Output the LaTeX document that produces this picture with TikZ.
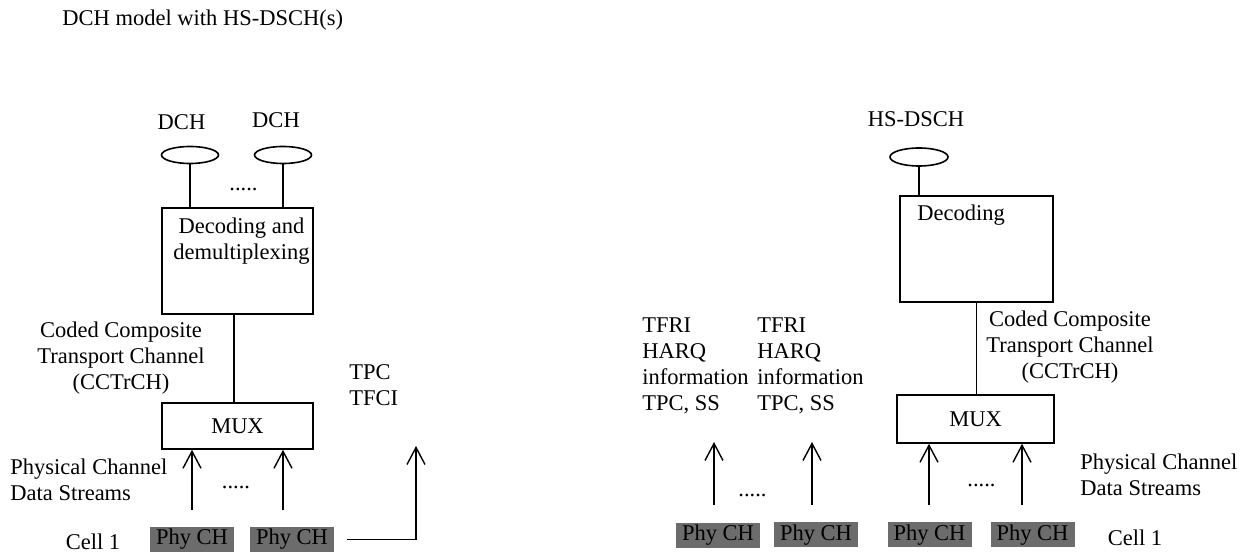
\documentclass[tikz,border=0pt]{standalone}
\usepackage{fontspec}
\setmainfont{Liberation Serif}
\definecolor{PhyGray}{RGB}{108,108,108}
\usepackage{tikz}
\usetikzlibrary{arrows.meta, positioning, shapes.geometric, calc}
\newcommand{\chfont}{\fontsize{11.25}{13}\selectfont}
\tikzset{
  chan/.style={ellipse, draw=black, line width=0.8pt, fill=white,
               minimum width=28.5pt, minimum height=8.5pt, inner sep=0pt},
  blk/.style={rectangle, draw=black, line width=0.8pt, fill=white,
              inner sep=0pt, font=\chfont},
  phy/.style={rectangle, fill=PhyGray, minimum width=42pt,
              minimum height=12.5pt, inner sep=0pt, font=\chfont, text=black},
  txt/.style={inner sep=0pt, font=\chfont, align=#1},
  txt/.default=center,
  lnk/.style={line width=0.7pt},
  arr/.style={-{Straight Barb[length=8.5pt, width=9pt]}, line width=0.7pt},
}

\begin{document}
\begin{tikzpicture}[x=0.5pt, y=-0.5pt]
      \useasboundingbox (0,0) rectangle (1248,555);

      \node[txt, anchor=west] (title) at (62,20) {DCH model with HS-DSCH(s)};

      % DCH side
      \node[txt] (dchl1) at (181.5,122) {DCH};
      \node[txt] (dchl2) at (276,120) {DCH};
      \node[chan] (dch1) at (190,155) {};
      \node[chan] (dch2) at (283,155) {};
      \node[txt] (dots1) at (243.5,189) {.....};
      \node[blk, minimum width=75.5pt, minimum height=53pt] (decl) at (237.5,261) {};
      \node[txt] (decltxt) at (241.5,241) {Decoding and\\demultiplexing};
      \node[txt] (cctl) at (121,358) {Coded Composite\\Transport Channel\\(CCTrCH)};
      \node[blk, minimum width=75.5pt, minimum height=23pt] (muxl) at (237.5,426) {MUX};
      \node[txt=left, anchor=west] (tpc) at (349,385.5) {TPC\\TFCI};
      \node[txt=left, anchor=west] (physl) at (10,480) {Physical Channel\\Data Streams};
      \node[txt] (dots2) at (236,487) {.....};
      \node[txt] (celll) at (93,542) {Cell 1};
      \node[phy] (pl1) at (192,539.5) {Phy CH};
      \node[phy] (pl2) at (292,539.5) {Phy CH};

      \draw[lnk] (dch1.south) -- (dch1.south |- decl.north);
      \draw[lnk] (dch2.south) -- (dch2.south |- decl.north);
      \draw[lnk] ([xshift=-1.75pt]decl.south) -- ([xshift=-1.75pt]muxl.north);

      \coordinate (al1) at (192,510);
      \coordinate (al2) at (283,510);
      \coordinate (atpc) at (416,446);
      \draw[arr] (al1) -- (al1 |- muxl.south);
      \draw[arr] (al2) -- (al2 |- muxl.south);
      \draw[arr] ([xshift=6.5pt]pl2.east) -| (atpc);

      % HS-DSCH side
      \node[txt=left, anchor=west] (tfri1) at (642,366) {TFRI\\HARQ\\information\\TPC, SS};
      \node[txt=left, anchor=west] (tfri2) at (757,366) {TFRI\\HARQ\\information\\TPC, SS};
      \node[txt] (dots3) at (752.5,495) {.....};
      \node[phy] (pm1) at (718,535.5) {Phy CH};
      \node[phy] (pm2) at (816,535) {Phy CH};

      \node[txt] (hsl) at (916,119) {HS-DSCH};
      \node[chan, minimum width=29pt, minimum height=9pt] (hs) at (919,157) {};
      \node[blk, minimum width=76.5pt, minimum height=53pt] (decr) at (976.5,249) {};
      \node[txt, anchor=west] (decrtxt) at (917,215) {Decoding};
      \node[txt] (cctr) at (1070,347) {Coded Composite\\Transport Channel\\(CCTrCH)};
      \node[blk, minimum width=78.5pt, minimum height=24pt] (muxr) at (975.5,419) {MUX};
      \node[txt=left, anchor=west] (physr) at (1080,474.5) {Physical Channel\\Data Streams};
      \node[txt] (dots4) at (981.5,485) {.....};
      \node[phy] (pr1) at (929.5,535) {Phy CH};
      \node[phy] (pr2) at (1032.5,535) {Phy CH};
      \node[txt] (cellr) at (1135,538) {Cell 1};

      \draw[lnk] (hs.south) -- (hs.south |- decr.north);
      \draw[lnk] (decr.south) -- (decr.south |- muxr.north);

      \coordinate (am1) at (714,505);
      \coordinate (am2) at (812,505);
      \coordinate (ar1) at (929,505);
      \coordinate (ar2) at (1022,505);
      \draw[arr] (am1) -- ++(0,-63);
      \draw[arr] (am2) -- ++(0,-63);
      \draw[arr] (ar1) -- (ar1 |- muxr.south);
      \draw[arr] (ar2) -- (ar2 |- muxr.south);
    \end{tikzpicture}
\end{document}
